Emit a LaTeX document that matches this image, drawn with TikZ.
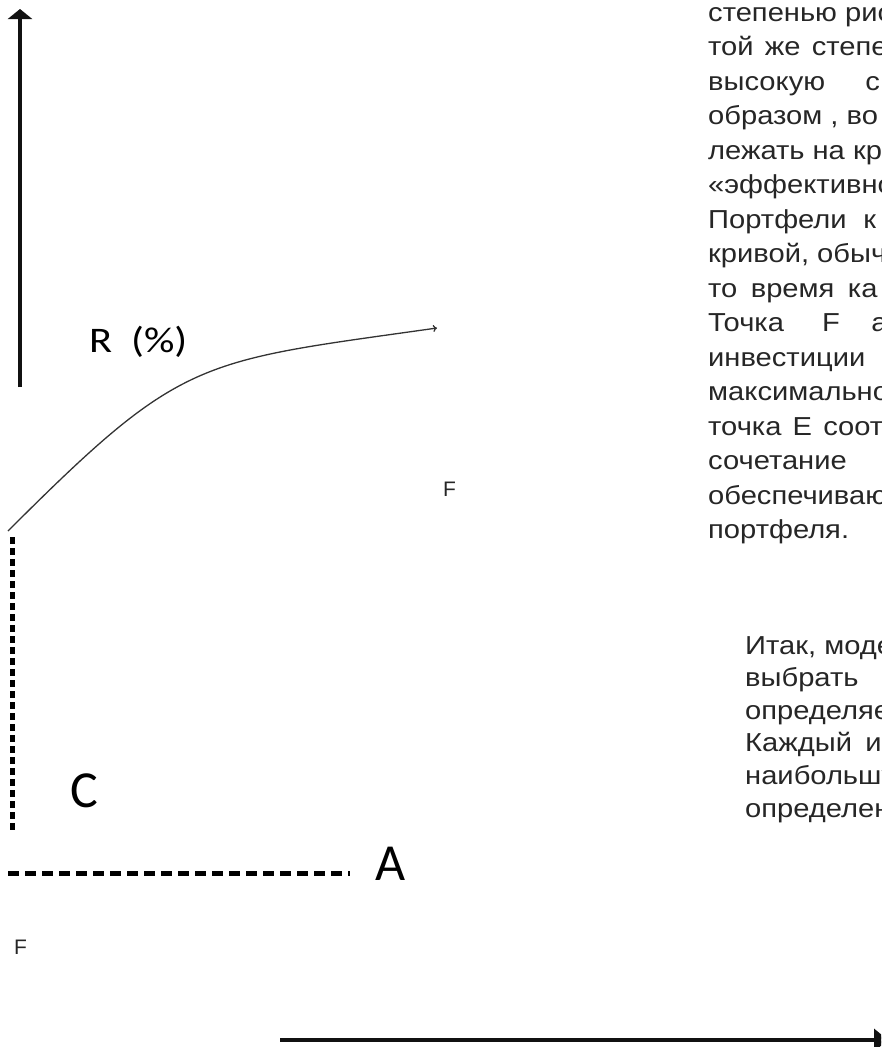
\documentclass[tikz,border=0pt]{standalone}
\usepackage{fontspec}
\setmainfont{Liberation Sans}
\newfontfamily\lblfont{Carlito}
\usetikzlibrary{arrows.meta}
\definecolor{AxisBlack}{HTML}{111111}
\definecolor{CurveGray}{HTML}{333333}
\definecolor{TextGray}{HTML}{262626}
\newcommand{\wide}[1]{\scalebox{1.12}[1]{#1}}

\begin{document}
\begin{tikzpicture}[x=1pt,y=-1pt,
    ax/.style={line width=3.5pt,color=AxisBlack},
    crv/.style={line width=1.3pt,color=CurveGray,-{To[length=4pt,width=7pt]}},
    dsh/.style={line width=5pt,color=black},
    big/.style={anchor=base west,inner sep=0pt,font=\lblfont\fontsize{52pt}{54pt}\selectfont},
    txt/.style={anchor=base west,inner sep=0pt,font=\fontsize{26pt}{30pt}\selectfont\color{TextGray}},
    sm/.style={anchor=base west,inner sep=0pt,font=\fontsize{21pt}{23pt}\selectfont\color{TextGray}}]
  \useasboundingbox (0,0) rectangle (881,1047);
  \clip (0,0) rectangle (881,1047);
  % axes
  \coordinate (ybot) at (20,387); \coordinate (ytop) at (20,9);
  \coordinate (xl) at (280,1040); \coordinate (xr) at (888,1040);
  \draw[ax,-{Triangle[width=24pt,length=10pt]}] (ybot) -- (ytop);
  \draw[ax,-{Triangle[width=22pt,length=14pt]}] (xl) -- (xr);
  % frontier
  \coordinate (c0) at (8,531); \coordinate (c1) at (437,328);
  \draw[crv] (c0) .. controls (183,356) and (197,362) .. (c1);
  % dashed guides
  \coordinate (dv0) at (12,537); \coordinate (dv1) at (12,830);
  \coordinate (dh0) at (8,873); \coordinate (dh1) at (350,873);
  \draw[dsh,dash pattern=on 7pt off 4pt] (dv0) -- (dv1);
  \draw[dsh,dash pattern=on 11pt off 6pt] (dh0) -- (dh1);
  % labels
  \node[big,font=\lblfont\fontsize{36pt}{38pt}\selectfont] (lblR) at (89,352) {\scalebox{1.18}[1]{R\hspace{16pt}(\%)}};
  \node[big] (lblC) at (70,807) {C};
  \node[big] (lblA) at (375,880) {A};
  \node[sm] (lblF) at (443,496) {F};
  \node[sm] (lblFb) at (14,954) {F};
  % text on the right
  \foreach \t [count=\i from 0] in {{степенью рис},{той\hspace{10pt}же\hspace{10pt}степе},{высокую\hspace{36pt}с},{образом , во},
      {лежать на кр},{«эффективно},{Портфели\hspace{15pt}к},{кривой, обыч},{то\hspace{12pt}время\hspace{12pt}ка},
      {Точка\hspace{34pt}F\hspace{28pt}а},{инвестиции},{максимально},{точка\hspace{10pt}E\hspace{10pt}соот},{сочетание},
      {обеспечиваю},{портфеля.}}
    \node[txt] (pa-\i) at (708,{21+34.5*\i}) {\wide{\t}};
  \foreach \t [count=\i from 0] in {{Итак, моде},{выбрать},{определяет},{Каждый\hspace{12pt}и},{наибольшу},{определен}}
    \node[txt] (pb-\i) at (745,{654+32.6*\i}) {\wide{\t}};
\end{tikzpicture}
\end{document}
